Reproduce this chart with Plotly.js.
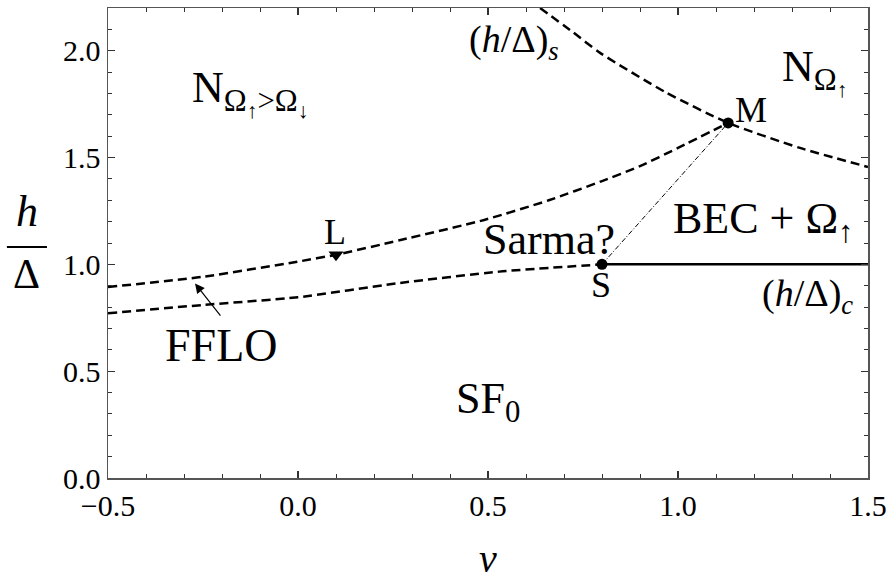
<!DOCTYPE html>
<html>
<head>
<meta charset="utf-8">
<script src="https://cdn.plot.ly/plotly-3.0.1.min.js"></script>
<style>html,body{margin:0;padding:0;background:#fff;}#chart{width:890px;height:581px;}</style>
</head>
<body>
<div id="chart"></div>
<script>
// Upper dashed boundary (through L to M)
const upperV = [-0.5, -0.25, 0.0, 0.1, 0.27, 0.49, 0.66, 0.8, 0.9, 1.0, 1.132];
const upperH = [0.894, 0.942, 1.013, 1.045, 1.114, 1.208, 1.30, 1.39, 1.46, 1.545, 1.662];
// Lower dashed boundary (to S)
const lowerV = [-0.5, -0.25, 0.0, 0.26, 0.53, 0.8];
const lowerH = [0.771, 0.81, 0.846, 0.911, 0.966, 1.0];
// (h/Δ)_s curve
const spinV = [0.637, 0.716, 0.795, 0.966, 1.132, 1.321, 1.5];
const spinH = [2.2, 2.097, 1.99, 1.807, 1.662, 1.545, 1.456];
// (h/Δ)_c solid line
const critV = [0.8, 1.5];
const critH = [1.0, 1.0];
// S–M dash-dot line
const smV = [0.8, 1.132];
const smH = [1.0, 1.662];
// Special points
const dotV = [0.8, 1.132];
const dotH = [1.0, 1.662];
const lV = [0.1];
const lH = [1.045];
// Axis ticks
const xTicks = [-0.5, 0.0, 0.5, 1.0, 1.5];
const yTicks = [0.0, 0.5, 1.0, 1.5, 2.0];

const serif = 'Liberation Serif';
const dash = '9px,5px';

const traces = [
  {x: upperV, y: upperH, mode: 'lines', line: {color: '#000', width: 2.5, dash: dash, shape: 'spline', smoothing: 0.6}},
  {x: lowerV, y: lowerH, mode: 'lines', line: {color: '#000', width: 2.5, dash: dash, shape: 'spline', smoothing: 0.6}},
  {x: spinV, y: spinH, mode: 'lines', line: {color: '#000', width: 2.5, dash: dash, shape: 'spline', smoothing: 0.6}},
  {x: critV, y: critH, mode: 'lines', line: {color: '#000', width: 2.5}},
  {x: smV, y: smH, mode: 'lines', line: {color: '#000', width: 1, dash: '5px,2px,1px,2px'}},
  {x: dotV, y: dotH, mode: 'markers', marker: {color: '#000', size: 11, symbol: 'circle'}},
  {x: lV, y: lH, mode: 'markers', marker: {color: '#000', size: 13, symbol: 'triangle-down'}}
];

function lab(x, y, text, size, extra) {
  return Object.assign({x: x, y: y, xref: 'x', yref: 'y', text: text, showarrow: false,
    font: {family: serif, size: size, color: '#000'}, xanchor: 'center', yanchor: 'middle'}, extra || {});
}

const annotations = [
  lab(-0.284, 1.80, 'N<sub>Ω<sub>↑</sub>&gt;Ω<sub>↓</sub></sub>', 44, {xanchor: 'left'}),
  lab(0.568, 2.04, '(<i>h</i>/Δ)<sub><i>s</i></sub>', 38),
  lab(1.36, 1.90, 'N<sub>Ω<sub>↑</sub></sub>', 44),
  lab(1.192, 1.723, 'M', 36),
  lab(0.097, 1.152, 'L', 36),
  lab(0.661, 1.115, 'Sarma?', 44),
  lab(0.797, 0.904, 'S', 36),
  lab(1.226, 1.20, 'BEC + Ω<sub>↑</sub>', 44),
  lab(1.342, 0.852, '(<i>h</i>/Δ)<sub><i>c</i></sub>', 38),
  lab(-0.203, 0.618, 'FFLO', 46),
  lab(0.5, 0.36, 'SF<sub>0</sub>', 44),
  {x: -0.271, y: 0.911, xref: 'x', yref: 'y', ax: -0.201, ay: 0.753, axref: 'x', ayref: 'y',
   text: '', showarrow: true, arrowhead: 2, arrowsize: 1.6, arrowwidth: 1.2, arrowcolor: '#000'},
  // axis titles
  {x: -0.1066, y: 0.566, xref: 'paper', yref: 'paper', text: '<i>h</i>', showarrow: false,
   font: {family: serif, size: 44, color: '#000'}, xanchor: 'center', yanchor: 'middle'},
  {x: -0.1066, y: 0.434, xref: 'paper', yref: 'paper', text: 'Δ', showarrow: false,
   font: {family: serif, size: 42, color: '#000'}, xanchor: 'center', yanchor: 'middle'},
  {x: 0.5, y: -0.172, xref: 'paper', yref: 'paper', text: '<i>v</i>', showarrow: false,
   font: {family: serif, size: 40, color: '#000'}, xanchor: 'center', yanchor: 'middle'}
];

const axisCommon = {
  showgrid: false, zeroline: false, showline: true, mirror: 'ticks',
  linecolor: '#555', linewidth: 1.5, ticks: 'inside', ticklen: 7, tickwidth: 1.2, tickcolor: '#333',
  tickfont: {family: serif, size: 30, color: '#000'}, tickformat: '.1f',
  minor: {dtick: 0.1, ticklen: 4, tickwidth: 1, tickcolor: '#333', ticks: 'inside'}
};

const layout = {
  width: 890, height: 581,
  margin: {l: 108, r: 22, t: 8, b: 103},
  paper_bgcolor: '#fff', plot_bgcolor: '#fff',
  showlegend: false,
  xaxis: Object.assign({}, axisCommon, {range: [-0.5, 1.5], tickvals: xTicks, ticklabelstandoff: 0}),
  yaxis: Object.assign({}, axisCommon, {range: [0, 2.2], tickvals: yTicks}),
  shapes: [
    {type: 'line', xref: 'paper', yref: 'paper', x0: -0.133, x1: -0.0803, y0: 0.4915, y1: 0.4915,
     line: {color: '#000', width: 2}}
  ],
  annotations: annotations
};

Plotly.newPlot('chart', traces, layout, {staticPlot: true, displayModeBar: false});
</script>
</body>
</html>
